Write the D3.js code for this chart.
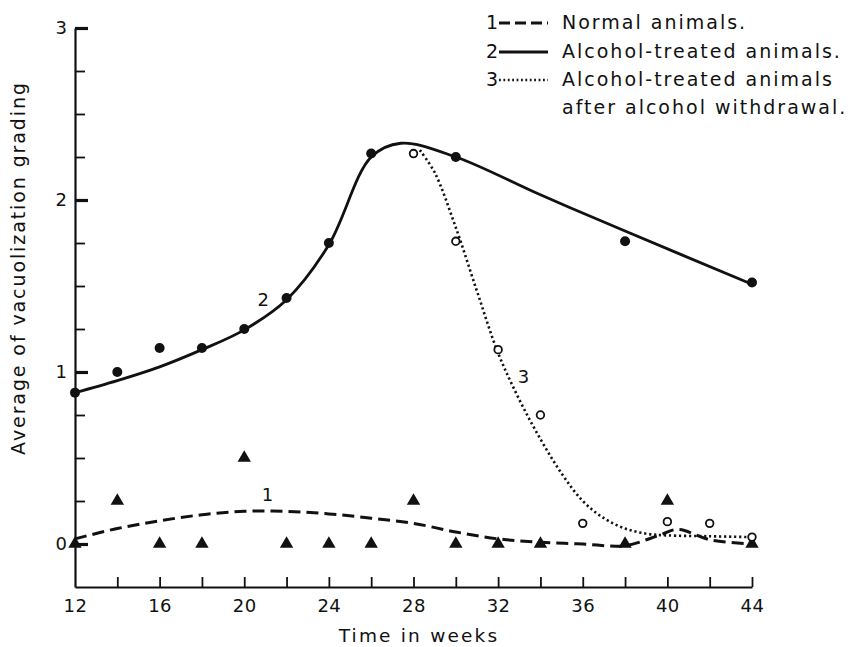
<!DOCTYPE html>
<html>
<head>
<meta charset="utf-8">
<script src="https://cdn.jsdelivr.net/npm/d3@7"></script>
<style>
  html, body { margin: 0; padding: 0; background: #fff; }
  svg { display: block; }
  text { font-family: "DejaVu Sans", "Liberation Sans", sans-serif; fill: #111; }
</style>
</head>
<body>
<svg id="chart" width="854" height="647"></svg>
<script>
// ---- Observed values (weeks, average vacuolization grading) ----
const normalWeeks   = [12, 14, 16, 18, 20, 22, 24, 26, 28, 30, 32, 34, 38, 40, 44];
const normalValues  = [0, 0.25, 0, 0, 0.5, 0, 0, 0, 0.25, 0, 0, 0, 0, 0.25, 0];

const alcoholWeeks  = [12, 14, 16, 18, 20, 22, 24, 26, 30, 38, 44];
const alcoholValues = [0.88, 1.0, 1.14, 1.14, 1.25, 1.43, 1.75, 2.27, 2.25, 1.76, 1.52];

const withdrawalWeeks  = [28, 30, 32, 34, 36, 40, 42, 44];
const withdrawalValues = [2.27, 1.76, 1.13, 0.75, 0.12, 0.13, 0.12, 0.04];

// ---- Hand-fitted trend curves ----
const normalCurveWeeks  = [12, 14, 16, 18, 20, 22, 24, 26, 28, 30, 32, 34, 36, 38, 39.6, 40.5, 42, 44];
const normalCurveValues = [0.03, 0.09, 0.135, 0.17, 0.19, 0.19, 0.175, 0.15, 0.12, 0.07, 0.03, 0.01, 0.0, -0.01, 0.05, 0.085, 0.025, 0.0];

const alcoholCurveWeeks  = [12, 14, 16, 18, 20, 22, 24, 26, 27.4, 30, 34, 38, 44];
const alcoholCurveValues = [0.88, 0.95, 1.03, 1.13, 1.245, 1.42, 1.74, 2.25, 2.33, 2.25, 2.03, 1.82, 1.51];

const withdrawalCurveWeeks  = [28.3, 29, 30, 31, 32, 33, 34, 35, 36, 37, 38, 39, 40, 42, 44];
const withdrawalCurveValues = [2.29, 2.16, 1.84, 1.47, 1.11, 0.84, 0.61, 0.41, 0.25, 0.15, 0.09, 0.06, 0.05, 0.045, 0.04];

// ---- Axes ----
const xTickMarks  = [14, 16, 18, 20, 22, 24, 26, 28, 30, 32, 34, 36, 38, 40, 42, 44];
const xTickLabels = [12, 16, 20, 24, 28, 32, 36, 40, 44];
const yMajorTicks = [0, 1, 2, 3];
const yMinorTicks = [0.25, 0.5, 0.75, 1.25, 1.5, 1.75, 2.25, 2.5, 2.75];

const legendItems = [
  { key: "1", label: "Normal animals.", dash: "11,5", width: 3 },
  { key: "2", label: "Alcohol-treated animals.", dash: null, width: 2.8 },
  { key: "3", label: "Alcohol-treated animals", dash: "1.8,2.6", width: 2.4 }
];
const legendExtra = "after alcohol withdrawal.";

const svg = d3.select("#chart");

const x = d3.scaleLinear().domain([12, 44]).range([75, 752]);
const y = d3.scaleLinear().domain([0, 3]).range([544, 28]);
const yBottom = -0.25;

// x axis baseline with upward ticks
const gx = svg.append("g").attr("transform", `translate(0,${y(yBottom)})`)
  .call(d3.axisTop(x).tickValues(xTickMarks).tickSize(10).tickSizeOuter(0).tickFormat(""));
gx.select(".domain").attr("stroke", "#111").attr("stroke-width", 2.2);
gx.selectAll(".tick line").attr("stroke", "#111").attr("stroke-width", 1.8);

// x tick labels
const gxl = svg.append("g").attr("transform", `translate(0,${y(yBottom)})`)
  .call(d3.axisBottom(x).tickValues(xTickLabels).tickSize(0).tickPadding(12).tickFormat(d3.format("d")));
gxl.select(".domain").remove();
gxl.selectAll("text").attr("font-size", 18).attr("font-family", "Liberation Sans, sans-serif")
  .attr("fill", "#111").attr("letter-spacing", 0.5);

// y axis: minor ticks
const gyMinor = svg.append("g").attr("transform", `translate(${x(12)},0)`)
  .call(d3.axisRight(y.copy().domain([yBottom, 3]).range([y(yBottom), y(3)]))
    .tickValues(yMinorTicks).tickSize(10).tickSizeOuter(0).tickFormat(""));
gyMinor.select(".domain").attr("stroke", "#111").attr("stroke-width", 2.2);
gyMinor.selectAll(".tick line").attr("stroke", "#111").attr("stroke-width", 1.8);

// y axis: major ticks
const gyMajor = svg.append("g").attr("transform", `translate(${x(12)},0)`)
  .call(d3.axisRight(y).tickValues(yMajorTicks).tickSize(13).tickSizeOuter(0).tickFormat(""));
gyMajor.select(".domain").remove();
gyMajor.selectAll(".tick line").attr("stroke", "#111").attr("stroke-width", 3.2);

// y tick labels
const gyl = svg.append("g").attr("transform", `translate(${x(12)},0)`)
  .call(d3.axisLeft(y).tickValues(yMajorTicks).tickSize(0).tickPadding(8).tickFormat(d3.format("d")));
gyl.select(".domain").remove();
gyl.selectAll("text").attr("font-size", 18).attr("font-family", "Liberation Sans, sans-serif").attr("fill", "#111");

// axis titles
svg.append("text")
  .attr("x", 419).attr("y", 642)
  .attr("text-anchor", "middle")
  .attr("font-size", 18.5).attr("letter-spacing", 2.2)
  .text("Time in weeks");

svg.append("text")
  .attr("transform", `translate(25,268) rotate(-90)`)
  .attr("text-anchor", "middle")
  .attr("font-size", 19).attr("letter-spacing", 1.9)
  .text("Average of vacuolization grading");

// ---- Trend curves ----
const line = d3.line().x(d => x(d[0])).y(d => y(d[1])).curve(d3.curveCatmullRom.alpha(0.5));
const zipPts = (a, b) => a.map((w, i) => [w, b[i]]);

svg.append("path")
  .attr("d", line(zipPts(normalCurveWeeks, normalCurveValues)))
  .attr("fill", "none").attr("stroke", "#111").attr("stroke-width", 3)
  .attr("stroke-dasharray", "12,6");

svg.append("path")
  .attr("d", line(zipPts(alcoholCurveWeeks, alcoholCurveValues)))
  .attr("fill", "none").attr("stroke", "#111").attr("stroke-width", 2.8);

svg.append("path")
  .attr("d", line(zipPts(withdrawalCurveWeeks, withdrawalCurveValues)))
  .attr("fill", "none").attr("stroke", "#111").attr("stroke-width", 2.6)
  .attr("stroke-dasharray", "2.2,2.8");

// ---- Markers ----
const tri = d3.symbol().type(d3.symbolTriangle).size(78);
svg.append("g").selectAll("path")
  .data(zipPts(normalWeeks, normalValues))
  .join("path")
  .attr("d", tri)
  .attr("transform", d => `translate(${x(d[0])},${y(d[1])})`)
  .attr("fill", "#111");

svg.append("g").selectAll("circle")
  .data(zipPts(alcoholWeeks, alcoholValues))
  .join("circle")
  .attr("cx", d => x(d[0])).attr("cy", d => y(d[1]))
  .attr("r", 5).attr("fill", "#111");

svg.append("g").selectAll("circle")
  .data(zipPts(withdrawalWeeks, withdrawalValues))
  .join("circle")
  .attr("cx", d => x(d[0])).attr("cy", d => y(d[1]))
  .attr("r", 3.8).attr("fill", "#fff").attr("stroke", "#111").attr("stroke-width", 1.8);

// curve numbers
const curveTags = [
  { t: "1", w: 21.1, v: 0.285 },
  { t: "2", w: 20.9, v: 1.42 },
  { t: "3", w: 33.2, v: 0.97 }
];
svg.append("g").selectAll("text")
  .data(curveTags)
  .join("text")
  .attr("x", d => x(d.w)).attr("y", d => y(d.v))
  .attr("dy", "0.35em")
  .attr("text-anchor", "middle")
  .attr("font-size", 18)
  .text(d => d.t);

// ---- Legend ----
const lg = svg.append("g");
const rowY = [22, 51, 79];
legendItems.forEach((it, i) => {
  const cy = rowY[i];
  lg.append("text").attr("x", 492).attr("y", cy).attr("dy", "0.35em")
    .attr("text-anchor", "middle").attr("font-size", 19).text(it.key);
  const ln = lg.append("line").attr("x1", 499).attr("x2", 548)
    .attr("y1", cy + 1).attr("y2", cy + 1)
    .attr("stroke", "#111").attr("stroke-width", it.width);
  if (it.dash) ln.attr("stroke-dasharray", it.dash);
  lg.append("text").attr("x", 562).attr("y", cy).attr("dy", "0.35em")
    .attr("font-size", 19).attr("letter-spacing", 2).text(it.label);
});
lg.append("text").attr("x", 562).attr("y", 107).attr("dy", "0.35em")
  .attr("font-size", 19).attr("letter-spacing", 2).text(legendExtra);
</script>
</body>
</html>
